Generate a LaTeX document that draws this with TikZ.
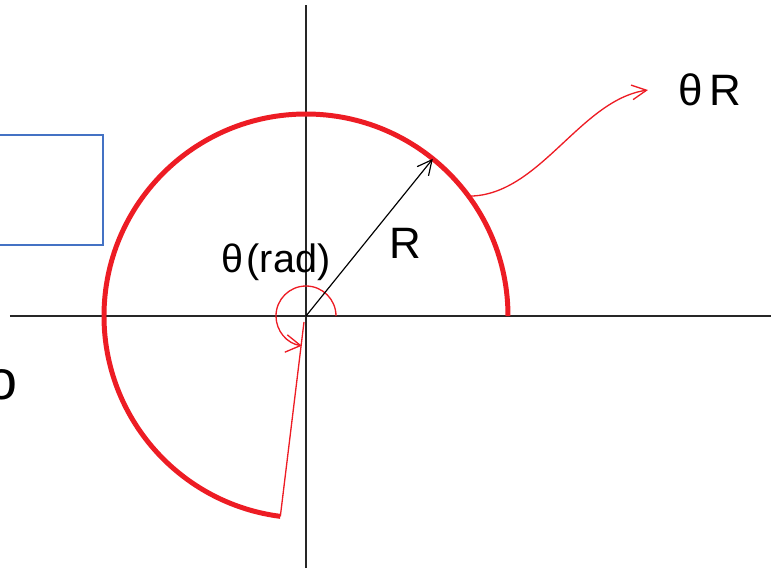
\documentclass[tikz,border=0pt]{standalone}
\usepackage{fontspec}
\setmainfont{Liberation Sans}
\usetikzlibrary{arrows.meta}

\definecolor{penred}{RGB}{237,28,36}
\definecolor{boxblue}{RGB}{68,114,196}
\tikzset{
  axis/.style={draw=black!85, line width=0.55pt},
  redarc/.style={draw=penred, line width=1.7pt},
  thinred/.style={draw=penred, line width=0.45pt},
  lbl/.style={font=\fontsize{15}{18}\selectfont, inner sep=0pt},
}

\begin{document}
\begin{tikzpicture}[x=0.012cm,y=0.012cm]
\useasboundingbox (-306,-252) rectangle (465,316);
% axes
\coordinate (O) at (0,0);
\draw[axis] (-296,0) -- (465,0);
\draw[axis] (0,-252) -- (0,311);
% the red sector boundary
\draw[redarc] (202,0) arc[start angle=0,end angle=262.7,radius=202] coordinate (E);
\draw[thinred] (E) -- (-2,-6);
% angle mark
\draw[thinred,-{Straight Barb[length=5pt,width=6pt]}] (30,0) arc[start angle=0,end angle=262,radius=30];
% radius
\coordinate (P) at (51.1:202);
\draw[black, line width=0.4pt, -{Straight Barb[length=5pt,width=5pt]}] (O) -- (P);
% arc length pointer
\coordinate (A) at (36.2:203);
\node[lbl] (thetaR) at (404,226) {θ\,R};
\draw[thinred,-{Straight Barb[length=5pt,width=5pt]}] (A) .. controls (234,121) and (274,216) .. (342,226);
\node[lbl] (radius) at (99,73) {R};
\node[lbl, font=\fontsize{13.5}{16}\selectfont] (angle) at (-30,54) {θ\kern1pt(rad)};
% partial box and text on the left
\draw[draw=boxblue, line width=0.5pt] (-316,181) rectangle (-203,71);
\node[font=\fontsize{19}{22}\selectfont, inner sep=0pt] (cut) at (-304,-69) {o};
\end{tikzpicture}
\end{document}
